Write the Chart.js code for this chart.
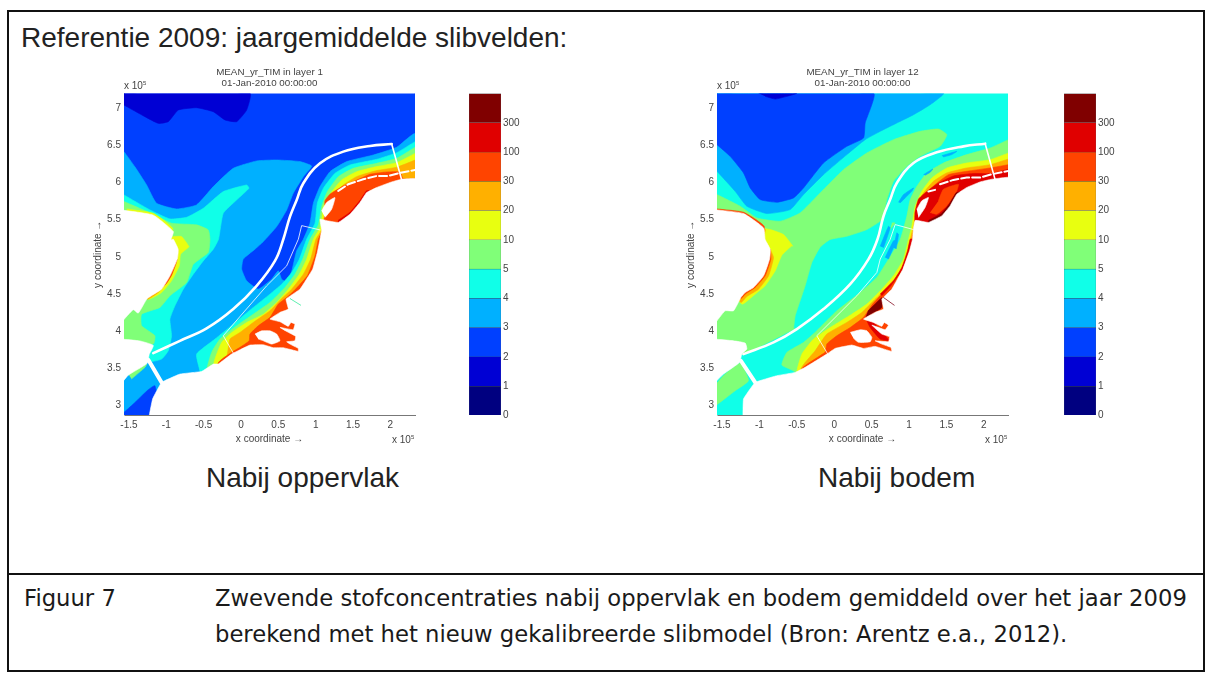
<!DOCTYPE html>
<html lang="nl">
<head>
<meta charset="UTF-8">
<title>Referentie 2009</title>
<style>
    * { margin: 0; padding: 0; box-sizing: border-box; }
    body { width: 1208px; height: 675px; background: #fff; position: relative; overflow: hidden; font-family: 'Liberation Sans', Arial, sans-serif; color: #222; }
    canvas { position: absolute; filter: blur(0.5px); }
    .frame { position: absolute; border: 2px solid #111; }
    .txt { position: absolute; white-space: nowrap; }
    .big { font-size: 28px; line-height: 32px; }
    .small { font-size: 10px; color: #444; }
    .small sup { font-size: 6px; }
    .cap { font-family: 'DejaVu Sans', Verdana, sans-serif; font-size: 22.7px; line-height: 26px; color: #1a1a1a; }
</style>
</head>
<body>
<div class="frame" style="left:7px;top:10px;width:1198px;height:662px"></div>
<div class="frame" style="left:7px;top:573px;width:1198px;height:2px;border-width:1px"></div>
<div class="txt big" style="left:21px;top:22px">Referentie 2009: jaargemiddelde slibvelden:</div>
<canvas id="mapLeft" width="335" height="381" style="left:92px;top:64px"></canvas>
<canvas id="mapRight" width="335" height="381" style="left:685px;top:64px"></canvas>
<canvas id="barLeft" width="60" height="340" style="left:469px;top:85px"></canvas>
<canvas id="barRight" width="60" height="340" style="left:1064px;top:85px"></canvas>
<div class="txt small" style="left:124px;top:80px">x 10<sup>5</sup></div>
<div class="txt small" style="left:392px;top:434px">x 10<sup>5</sup></div>
<div class="txt small" style="left:717px;top:80px">x 10<sup>5</sup></div>
<div class="txt small" style="left:985px;top:434px">x 10<sup>5</sup></div>
<div class="txt big" style="left:206px;top:462px">Nabij oppervlak</div>
<div class="txt big" style="left:818px;top:462px">Nabij bodem</div>
<div class="txt cap" style="left:24px;top:585px">Figuur 7</div>
<div class="txt cap" style="left:215px;top:585px">Zwevende stofconcentraties nabij oppervlak en bodem gemiddeld over het jaar 2009</div>
<div class="txt cap" style="left:215px;top:621px">berekend met het nieuw gekalibreerde slibmodel (Bron: Arentz e.a., 2012).</div>

<script src="https://cdn.jsdelivr.net/npm/chart.js@4/dist/chart.umd.min.js"></script>
<script>
const levelColors = ['#000080', '#0000d4', '#0040ff', '#00b0ff', '#10ffe8', '#80ff78', '#e8ff10', '#ffb000', '#ff4400', '#e00000', '#800000'];
const levelLabels = ['0', '1', '2', '3', '4', '5', '10', '20', '30', '100', '300'];
const xTicksMajor = [-1.5, -1, -0.5, 0, 0.5, 1, 1.5, 2];
const yTicksMajor = [3, 3.5, 4, 4.5, 5, 5.5, 6, 6.5, 7];

// left map (layer 1), contour outlines in plot units (x 10^5)
const leftBase = [[-1.566,2.875],[2.33,2.875],[2.33,7.2],[-1.566,7.2]];
const leftL1 = [[-1.566,7.2],[0.12,7.2],[0.076,6.973],[-0.058,6.817],[-0.214,6.84],[-0.37,6.95],[-0.594,7.004],[-0.839,6.973],[-0.973,6.817],[-1.107,6.794],[-1.286,6.884],[-1.566,7.04]];
const leftL3 = [[-1.566,6.414],[-1.42,6.21],[-1.263,5.966],[-1.13,5.72],[-0.862,5.644],[-0.594,5.698],[-0.37,5.944],[-0.103,6.19],[0.21,6.289],[0.478,6.302],[0.79,6.28],[0.946,6.22],[0.835,6.078],[0.7,5.855],[0.612,5.63],[0.478,5.407],[0.3,5.206],[0.1875,5.103],[0.03,4.969],[0.01,4.834],[0.076,4.678],[0.232,4.566],[0.41,4.7],[0.5,4.812],[0.545,4.7],[0.612,4.664],[0.68,4.81],[0.745,5.08],[0.835,5.237],[0.924,5.452],[0.969,5.72],[1.058,5.944],[1.192,6.145],[1.415,6.28],[1.772,6.369],[2.085,6.472],[2.33,6.651],[2.33,2.875],[-1.566,2.875]];
const leftL2Sw = [[-1.566,2.91],[-1.442,3.022],[-1.241,3.215],[-1.152,3.268],[-1.1,2.875],[-1.566,2.875]];
const leftL4West = [[-1.566,5.832],[-1.219,5.631],[-0.951,5.51],[-0.728,5.532],[-0.504,5.653],[-0.237,5.877],[0.076,5.966],[0.107,5.922],[-0.058,5.765],[-0.237,5.586],[-0.3,5.237],[-0.37,5.103],[-0.504,4.946],[-0.638,4.767],[-0.772,4.566],[-0.884,4.342],[-0.951,4.163],[-0.929,3.94],[-0.973,3.738],[-1.0625,3.626],[-1.263,3.58],[-1.566,3.58]];
const leftL4Coast = [[2.33,6.548],[2.085,6.4],[1.817,6.311],[1.46,6.235],[1.259,6.123],[1.103,5.922],[1.022,5.72],[0.991,5.452],[0.879,5.237],[0.781,4.969],[0.679,4.79],[0.545,4.633],[0.388,4.499],[0.165,4.32],[-0.103,4.096],[-0.348,3.895],[-0.594,3.693],[-0.549,3.46],[-0.5,2.875],[2.33,2.875]];
const leftL5West = [[-1.566,5.743],[-1.152,5.564],[-0.929,5.452],[-0.594,5.43],[-0.4375,5.362],[-0.415,5.237],[-0.4375,5.058],[-0.638,4.9],[-0.728,4.655],[-0.951,4.477],[-1.085,4.32],[-1.33,4.23],[-1.33,4.074],[-1.152,3.94],[-1.174,3.83],[-1.566,3.83]];
const leftL5Strip = [[-1.509,3.425],[-1.263,3.56],[-1.285,3.515],[-1.464,3.36]];
const leftL5Coast = [[2.33,6.472],[2.085,6.324],[1.817,6.257],[1.504,6.19],[1.304,6.078],[1.156,5.877],[1.08,5.676],[1.036,5.43],[0.924,5.237],[0.826,4.969],[0.723,4.767],[0.589,4.589],[0.388,4.387],[0.165,4.23],[-0.058,4.074],[-0.281,3.895],[-0.393,3.716],[-0.46,3.47],[-0.4,2.875],[2.33,2.875]];
const leftL6West = [[-0.906,5.273],[-0.795,5.273],[-0.696,5.139],[-0.705,5.125],[-0.808,5.036],[-0.826,4.879],[-0.929,4.678],[-1.0625,4.521],[-1.241,4.432],[-1.3,4.7],[-1,5.2]];
const leftL6Thin = [[-1.53,5.644],[-1.174,5.586],[-0.915,5.385],[-0.95,5.2],[-1.5,5.4]];
const leftL6Coast = [[2.33,6.39],[2.085,6.266],[1.817,6.213],[1.549,6.145],[1.348,6.034],[1.2,5.855],[1.103,5.676],[1.067,5.407],[0.969,5.237],[0.879,4.969],[0.781,4.767],[0.634,4.566],[0.478,4.387],[0.3,4.23],[0.076,4.119],[-0.125,3.984],[-0.259,3.85],[-0.362,3.573],[-0.3,2.875],[2.33,2.875]];
const leftL7West = [[-0.84,5.1],[-0.87,4.9],[-0.973,4.678],[-1.107,4.521],[-1.254,4.432],[-1.3,4.7],[-1,5.1]];
const leftL7Coast = [[2.33,6.3],[2.085,6.204],[1.817,6.159],[1.549,6.078],[1.37,5.966],[1.237,5.832],[1.138,5.653],[1.08,5.362],[1.004,5.237],[0.933,4.969],[0.835,4.767],[0.679,4.566],[0.545,4.44],[0.388,4.275],[0.165,4.119],[-0.013,3.984],[-0.147,3.895],[-0.192,3.649],[-0.304,3.573],[-0.25,2.875],[2.33,2.875]];
const leftL8West = [[-0.853,4.97],[-0.925,4.76],[-1.02,4.62],[-1.2,4.6],[-1,5]];
const leftL8Coast = [[2.33,6.05],[2.17,6.05],[2.13,6.141],[1.95,6.141],[1.727,6.11],[1.526,6.02],[1.37,5.953],[1.191,5.842],[1.124,5.752],[1.125,5.586],[1.094,5.362],[1.036,5.237],[0.991,5.013],[0.888,4.745],[0.71,4.544],[0.612,4.454],[0.5,4.365],[0.388,4.187],[0.232,4.074],[0.12,3.962],[0.11,3.872],[-0.013,3.784],[-0.125,3.717],[-0.304,3.573],[-0.25,2.875],[2.33,2.875]];
const leftL9Edge = [[1.3,5.49],[1.46,5.6],[1.593,5.76],[1.682,5.89],[1.73,5.88],[1.593,5.66],[1.44,5.5],[1.3,5.43]];
const leftLandWest = [[-1.6,5.63],[-1.174,5.56],[-0.906,5.34],[-0.9375,5.23],[-0.906,5.237],[-0.84,5.1],[-0.853,4.97],[-0.951,4.745],[-1.0625,4.566],[-1.254,4.44],[-1.375,4.244],[-1.442,4.29],[-1.6,4.12]];
const leftLandMid = [[-1.6,3.895],[-1.353,3.87],[-1.174,3.81],[-1.228,3.69],[-1.254,3.57],[-1.509,3.41],[-1.6,3.3]];
const leftLandEast = [[-1.241,2.8],[-1.183,3.09],[-1.0625,3.313],[-0.817,3.425],[-0.527,3.46],[-0.37,3.56],[-0.304,3.56],[-0.125,3.694],[-0.013,3.752],[0.121,3.815],[0.299,3.819],[0.433,3.779],[0.567,3.779],[0.767,3.73],[0.767,3.77],[0.656,3.828],[0.612,3.859],[0.723,3.872],[0.732,3.932],[0.62,3.993],[0.522,4.052],[0.7,4.02],[0.723,4.097],[0.669,4.119],[0.634,4.066],[0.522,4.128],[0.388,4.164],[0.522,4.254],[0.634,4.298],[0.603,4.432],[0.79,4.566],[0.96,4.834],[1.022,5.058],[1.058,5.237],[1.08,5.362],[1.058,5.506],[1.169,5.483],[1.303,5.462],[1.459,5.573],[1.593,5.73],[1.682,5.864],[1.816,5.932],[2.017,6.007],[2.151,6.043],[2.4,6.043],[2.4,2.8]];
const leftHoleBay = [[0.187,3.962],[0.277,4.006],[0.388,4.006],[0.478,3.962],[0.522,3.872],[0.41,3.828],[0.299,3.872],[0.232,3.895]];
const leftHoleLake = [[1.08,5.617],[1.147,5.73],[1.258,5.797],[1.214,5.64],[1.125,5.529]];
const leftFairway = [[-1.174,3.707],[-0.817,3.872],[-0.46,4.038],[-0.103,4.298],[0.21,4.611],[0.455,4.946],[0.567,5.237],[0.656,5.541],[0.746,5.765],[0.835,5.989],[1.058,6.257],[1.37,6.414],[1.728,6.49],[2.018,6.517]];
const leftFairwayEnd = [[2.018,6.517],[2.152,6.034]];
const leftFairwaySw = [[-1.241,3.617],[-1.0625,3.313]];
const leftInner = [[1.058,5.362],[0.8125,5.42],[0.768,5.237],[0.612,4.879],[0.344,4.611],[-0.237,3.94],[-0.094,3.693]];
const leftIslands = [[1.303,5.886],[1.437,5.976],[1.637,6.043],[1.816,6.087],[1.972,6.087],[2.106,6.123],[2.33,6.168]];
const leftSpur = [[0.656,4.44],[0.799,4.351]];

// right map (layer 12)
const rightBase = [[-1.566,2.875],[2.33,2.875],[2.33,7.2],[-1.566,7.2]];
const rightL3 = [[-1.566,7.2],[1.461,7.2],[1.283,7.045],[1.06,6.91],[0.837,6.799],[0.615,6.687],[0.414,6.575],[0.169,6.374],[-0.143,6.105],[-0.41,5.837],[-0.588,5.635],[-0.9,5.582],[-1.167,5.68],[-1.323,5.881],[-1.566,6.15]];
const rightL2 = [[-1.566,7.2],[0.526,7.2],[0.414,6.799],[0.392,6.597],[0.169,6.485],[-0.143,6.262],[-0.41,5.926],[-0.543,5.792],[-0.766,5.734],[-0.989,5.77],[-1.122,5.926],[-1.212,6.128],[-1.39,6.351],[-1.566,6.508]];
const rightL1 = [[-1.011,7.2],[-0.499,7.2],[-0.633,7.157],[-0.788,7.121],[-0.922,7.157]];
const rightL5West = [[-1.566,5.837],[-1.256,5.68],[-1.033,5.523],[-0.722,5.479],[-0.454,5.591],[-0.187,5.859],[0.125,6.172],[0.437,6.396],[0.793,6.575],[1.149,6.687],[1.394,6.718],[1.506,6.642],[1.416,6.485],[1.149,6.351],[0.971,6.217],[0.793,6.016],[0.704,5.77],[0.637,5.501],[0.437,5.367],[0.169,5.277],[-0.053,5.233],[-0.187,5.13],[-0.298,4.924],[-0.388,4.611],[-0.432,4.477],[-0.521,4.208],[-0.543,4.007],[-0.521,4.038],[-1.212,3.693],[-1.566,3.693]];
const rightL5Sw = [[-1.566,3.304],[-1.457,3.425],[-1.256,3.573],[-1.145,3.336],[-1.323,3.201],[-1.566,3.013]];
const rightL5Tip = [[0.771,5.456],[0.815,5.456],[0.748,5.367]];
const rightL5Coast = [[2.33,6.575],[2.085,6.463],[1.773,6.374],[1.461,6.262],[1.238,6.128],[1.105,5.949],[1.016,5.77],[0.971,5.546],[0.882,5.233],[0.726,4.969],[0.57,4.723],[0.347,4.521],[0.036,4.275],[-0.232,4.007],[-0.41,3.85],[-0.633,3.716],[-0.699,3.546],[-0.521,3.447],[-0.5,2.875],[2.33,2.875]];
const rightL3Patch1 = [[1.439,6.36],[1.639,6.418],[1.572,6.374],[1.461,6.342]];
const rightL3Patch2 = [[1.194,6.105],[1.318,6.181],[1.283,6.136],[1.216,6.096]];
const rightL3Patch3 = [[0.86,5.734],[0.927,5.837],[1.06,5.926],[1.038,5.881],[0.949,5.792],[0.882,5.725]];
const rightL3Patch4 = [[0.615,5.143],[0.726,5.412],[0.748,5.389],[0.659,5.121]];
const rightL3Patch5 = [[0.793,5.121],[0.837,5.322],[0.86,5.3],[0.829,5.107]];
const rightL3Patch6 = [[0.682,4.991],[0.793,5.215],[0.829,5.215],[0.726,4.969]];
const rightL6West = [[-0.989,5.389],[-0.855,5.367],[-0.677,5.3],[-0.552,5.143],[-0.566,5.148],[-0.699,5.022],[-0.788,4.812],[-0.922,4.611],[-1.056,4.499],[-1.234,4.365],[-1.4,4.7],[-1,5.3]];
const rightL6Coast = [[2.33,6.396],[2.085,6.306],[1.773,6.262],[1.506,6.195],[1.305,6.06],[1.171,5.881],[1.082,5.68],[1.038,5.412],[0.993,5.233],[0.926,4.969],[0.793,4.745],[0.637,4.566],[0.437,4.365],[0.236,4.23],[-0.053,4.051],[-0.276,3.895],[-0.432,3.693],[-0.499,3.456],[-0.45,2.875],[2.33,2.875]];
const rightL7West = [[-0.855,5.103],[-0.811,4.991],[-0.877,4.745],[-1.011,4.566],[-1.167,4.468],[-1.247,4.387],[-1.4,4.7],[-1,5.1]];
const rightL7Thin = [[-1.53,5.64],[-1.212,5.57],[-0.92,5.37],[-1,5.2],[-1.5,5.4]];
const rightL7Coast = [[2.33,6.315],[2.085,6.239],[1.773,6.195],[1.506,6.128],[1.327,6.016],[1.194,5.859],[1.105,5.658],[1.06,5.412],[1.016,5.233],[0.962,4.969],[0.837,4.745],[0.682,4.566],[0.526,4.409],[0.37,4.253],[0.169,4.119],[-0.098,3.962],[-0.254,3.738],[-0.445,3.492],[-0.4,2.875],[2.33,2.875]];
const rightL8West = [[-0.855,5.103],[-0.846,4.969],[-0.922,4.745],[-1.056,4.588],[-1.189,4.499],[-1.247,4.441],[-1.4,4.7],[-1,5.1]];
const rightL8Thin = [[-1.566,5.644],[-1.212,5.6],[-0.935,5.412],[-1,5.2],[-1.5,5.4]];
const rightL8Coast = [[2.33,6.239],[2.085,6.195],[1.773,6.15],[1.528,6.105],[1.35,5.971],[1.216,5.837],[1.127,5.635],[1.082,5.412],[1.038,5.233],[0.993,4.969],[0.882,4.745],[0.704,4.566],[0.615,4.477],[0.503,4.351],[0.392,4.187],[0.214,4.05],[0.036,3.94],[-0.098,3.83],[-0.12,3.72],[-0.432,3.492],[-0.4,2.875],[2.33,2.875]];
const rightL9Wadden = [[2.33,6.18],[2.105,6.12],[1.86,6.12],[1.593,6.087],[1.37,5.976],[1.193,5.842],[1.126,5.774],[1.08,5.6],[1.082,5.47],[1.148,5.44],[1.26,5.42],[1.438,5.5],[1.549,5.64],[1.638,5.8],[1.771,5.9],[1.95,5.98],[2.33,6.03]];
const rightL8Patch = [[1.393,5.752],[1.46,5.909],[1.66,5.976],[1.638,5.886],[1.504,5.685],[1.371,5.573],[1.282,5.596]];
const rightL10Edge = [[1.26,5.49],[1.43,5.58],[1.54,5.71],[1.63,5.86],[1.69,5.87],[1.6,5.68],[1.46,5.5],[1.26,5.44]];
const rightL9Coast = [[0.615,4.5],[0.793,4.678],[0.904,4.857],[0.98,5.081],[1.016,5.237],[1.047,5.237],[1.007,5.081],[0.918,4.834],[0.793,4.655],[0.637,4.477]];
const rightL10Finger = [[0.42,4.19],[0.525,4.25],[0.637,4.32],[0.637,4.45],[0.56,4.38],[0.45,4.27]];
const rightL9Finger = [[0.526,4.119],[0.704,3.917],[0.739,3.872],[0.615,3.895],[0.481,4.051],[0.437,4.141]];
const rightLandWest = [[-1.6,5.635],[-1.212,5.582],[-0.944,5.389],[-0.922,5.233],[-0.855,5.103],[-0.864,4.969],[-0.944,4.745],[-1.078,4.588],[-1.189,4.521],[-1.247,4.454],[-1.345,4.275],[-1.457,4.275],[-1.6,4.096]];
const rightLandMid = [[-1.6,3.895],[-1.345,3.872],[-1.189,3.841],[-1.167,3.761],[-1.234,3.693],[-1.265,3.582],[-1.479,3.425],[-1.6,3.304]];
const rightLandEast = [[-1.22,2.8],[-1.212,3.09],[-1.056,3.313],[-0.766,3.403],[-0.521,3.447],[-0.388,3.515],[-0.098,3.694],[0.013,3.77],[0.236,3.815],[0.392,3.77],[0.547,3.797],[0.77,3.73],[0.757,3.784],[0.637,3.828],[0.547,3.872],[0.726,3.859],[0.74,3.926],[0.637,3.962],[0.503,4.083],[0.681,4.02],[0.726,4.083],[0.668,4.119],[0.637,4.066],[0.525,4.119],[0.392,4.164],[0.547,4.254],[0.659,4.298],[0.637,4.432],[0.77,4.566],[0.918,4.834],[1.007,5.081],[1.047,5.237],[1.06,5.389],[1.082,5.49],[1.148,5.483],[1.26,5.462],[1.438,5.55],[1.549,5.685],[1.638,5.842],[1.771,5.932],[1.95,6.007],[2.105,6.043],[2.4,6.066],[2.4,2.8]];
const rightHoleBay = [[0.214,3.985],[0.347,4.02],[0.436,4.007],[0.503,3.918],[0.48,3.859],[0.325,3.851],[0.258,3.905]];
const rightHoleLake = [[1.104,5.64],[1.17,5.752],[1.26,5.797],[1.215,5.663],[1.126,5.529]];
const rightFairway = [[-1.212,3.693],[-0.811,3.85],[-0.499,4.029],[-0.143,4.298],[0.214,4.633],[0.459,4.969],[0.579,5.237],[0.659,5.546],[0.748,5.77],[0.837,5.993],[1.06,6.262],[1.372,6.405],[1.728,6.485],[2.018,6.521]];
const rightFairwayEnd = [[2.018,6.521],[2.151,6.038]];
const rightFairwaySw = [[-1.247,3.604],[-1.056,3.313]];
const rightInner = [[1.06,5.367],[0.815,5.434],[0.748,5.233],[0.615,4.969],[0.57,4.79],[0.303,4.477],[-0.232,3.94],[-0.085,3.693]];
const rightIslands = [[1.415,5.976],[1.593,6.034],[1.771,6.066],[1.95,6.066],[2.105,6.11],[2.33,6.155]];
const rightIslandsWest = [[1.259,5.878],[1.348,5.9]];
const rightSpur = [[0.659,4.454],[0.802,4.351]];

const WHITE = '#ffffff';

function area(points, color, tension) {
    return { data: points, showLine: true, pointRadius: 0, fill: 'shape', tension: tension === undefined ? 0.15 : tension, backgroundColor: color, borderColor: color, borderWidth: 0.6 };
}

function stroke(points, color, width, dash, tension) {
    return { data: points, showLine: true, pointRadius: 0, fill: false, tension: tension || 0, borderColor: color, borderWidth: width, borderDash: dash || [], borderCapStyle: 'round' };
}

function plainTick(v) { return String(v); }

function drawMap(id, title, xMin, xMax, datasets) {
    // the first dataset in a chart gets painted last, so number them by paint order
    datasets.forEach(function (d, i) { d.order = datasets.length - i; });
    new Chart(document.getElementById(id), {
        type: 'scatter',
        data: { datasets: datasets },
        options: {
            responsive: false,
            animation: false,
            events: [],
            layout: { padding: { right: 12 } },
            plugins: {
                legend: { display: false },
                tooltip: { enabled: false },
                title: { display: true, fullSize: false, text: title, color: '#444', font: { family: 'Liberation Sans', size: 9.8, weight: 'normal', lineHeight: 1.2 }, padding: { top: 2, bottom: 4 } }
            },
            scales: {
                x: {
                    type: 'linear', min: xMin, max: xMax,
                    afterBuildTicks: function (s) { s.ticks = xTicksMajor.map(function (v) { return { value: v }; }); },
                    afterFit: function (s) { s.height = 30; },
                    grid: { drawOnChartArea: false, drawTicks: false },
                    border: { color: '#777', width: 1 },
                    ticks: { color: '#444', padding: 4, maxRotation: 0, autoSkip: false, font: { family: 'Liberation Sans', size: 10 }, callback: plainTick },
                    title: { display: true, text: 'x coordinate →', color: '#444', padding: 0, font: { family: 'Liberation Sans', size: 10 } }
                },
                y: {
                    type: 'linear', min: 2.875, max: 7.195,
                    afterBuildTicks: function (s) { s.ticks = yTicksMajor.map(function (v) { return { value: v }; }); },
                    afterFit: function (s) { s.width = 32; },
                    grid: { drawOnChartArea: false, drawTicks: false },
                    border: { color: '#bbb', width: 1 },
                    ticks: { color: '#444', padding: 3, autoSkip: false, font: { family: 'Liberation Sans', size: 10 }, callback: plainTick },
                    title: { display: true, text: 'y coordinate →', color: '#444', padding: 0, font: { family: 'Liberation Sans', size: 10 } }
                }
            }
        }
    });
}

function drawBar(id) {
    const sets = levelColors.map(function (c) {
        return { data: [1], backgroundColor: c, borderColor: '#3a4a55', borderWidth: 0.5, barPercentage: 1, categoryPercentage: 1 };
    });
    new Chart(document.getElementById(id), {
        type: 'bar',
        data: { labels: [''], datasets: sets },
        options: {
            responsive: false,
            animation: false,
            events: [],
            layout: { padding: { top: 8.5, bottom: 9.5 } },
            plugins: { legend: { display: false }, tooltip: { enabled: false } },
            scales: {
                x: { stacked: true, display: false },
                y: {
                    stacked: true, position: 'right', min: 0, max: levelColors.length,
                    afterFit: function (s) { s.width = 28; },
                    grid: { drawOnChartArea: false, drawTicks: false },
                    border: { display: false },
                    ticks: {
                        stepSize: 1, color: '#444', padding: 2, autoSkip: false, font: { family: 'Liberation Sans', size: 10 },
                        callback: function (v) { return levelLabels[v] || ''; }
                    }
                }
            }
        }
    });
}

const c = levelColors;

drawMap('mapLeft', ['MEAN_yr_TIM in layer 1', '01-Jan-2010 00:00:00'], -1.566, 2.33, [
    area(leftBase, c[2], 0), area(leftL1, c[1]), area(leftL3, c[3]), area(leftL2Sw, c[2]),
    area(leftL4West, c[4]), area(leftL4Coast, c[4]),
    area(leftL5West, c[5]), area(leftL5Strip, c[5]), area(leftL5Coast, c[5]),
    area(leftL6West, c[6]), area(leftL6Thin, c[6]), area(leftL6Coast, c[6]),
    area(leftL7West, c[7]), area(leftL7Coast, c[7]),
    area(leftL8West, c[8]), area(leftL8Coast, c[8]), area(leftL9Edge, c[9]),
    area(leftLandWest, WHITE), area(leftLandMid, WHITE), area(leftLandEast, WHITE, 0.08),
    area(leftHoleBay, WHITE), area(leftHoleLake, WHITE),
    stroke(leftInner, 'rgba(255,255,255,0.8)', 1), stroke(leftSpur, '#60f0b0', 1),
    stroke(leftIslands, WHITE, 2, [8, 3]),
    stroke(leftFairway, WHITE, 2.6, null, 0.4), stroke(leftFairwayEnd, WHITE, 1.6), stroke(leftFairwaySw, WHITE, 4)
]);

drawMap('mapRight', ['MEAN_yr_TIM in layer 12', '01-Jan-2010 00:00:00'], -1.566, 2.323, [
    area(rightBase, c[4], 0), area(rightL3, c[3]), area(rightL2, c[2]), area(rightL1, c[1]),
    area(rightL5West, c[5]), area(rightL5Sw, c[5]), area(rightL5Tip, c[5]), area(rightL5Coast, c[5]),
    area(rightL3Patch1, c[3]), area(rightL3Patch2, c[3]), area(rightL3Patch3, c[3]),
    area(rightL3Patch4, c[3]), area(rightL3Patch5, c[3]), area(rightL3Patch6, c[3]),
    area(rightL6West, c[6]), area(rightL6Coast, c[6]),
    area(rightL7West, c[7]), area(rightL7Thin, c[7]), area(rightL7Coast, c[7]),
    area(rightL8West, c[8]), area(rightL8Thin, c[8]), area(rightL8Coast, c[8]),
    area(rightL9Wadden, c[9]), area(rightL8Patch, c[8]), area(rightL10Edge, c[10]),
    area(rightL9Coast, c[9]), area(rightL10Finger, c[10]), area(rightL9Finger, c[9]),
    area(rightLandWest, WHITE), area(rightLandMid, WHITE), area(rightLandEast, WHITE, 0.08),
    area(rightHoleBay, WHITE), area(rightHoleLake, WHITE),
    stroke(rightInner, 'rgba(255,255,255,0.8)', 1), stroke(rightSpur, '#a04050', 1),
    stroke(rightIslands, WHITE, 2, [8, 3]), stroke(rightIslandsWest, WHITE, 2),
    stroke(rightFairway, WHITE, 2.6, null, 0.4), stroke(rightFairwayEnd, WHITE, 1.6), stroke(rightFairwaySw, WHITE, 4)
]);

drawBar('barLeft');
drawBar('barRight');
</script>
</body>
</html>
